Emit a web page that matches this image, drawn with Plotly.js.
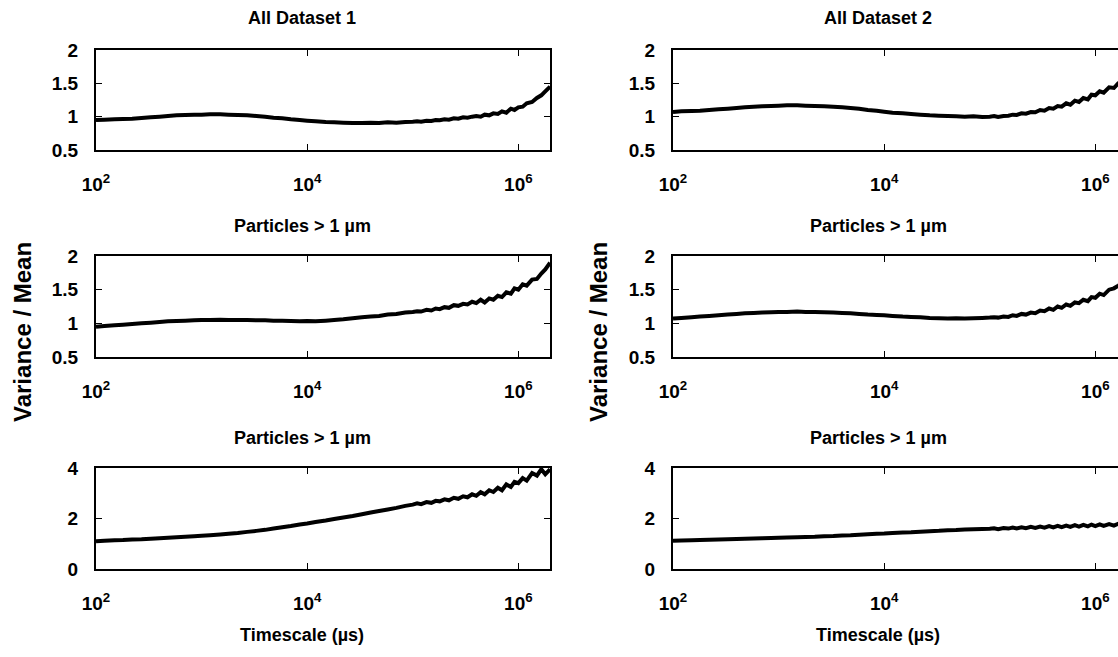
<!DOCTYPE html>
<html>
<head>
<meta charset="utf-8">
<script src="https://cdn.plot.ly/plotly-3.0.1.min.js"></script>
<style>
html,body{margin:0;padding:0;overflow:hidden;background:#fff;}
#chart{width:1140px;height:657px;}
</style>
</head>
<body>
<div id="chart"></div>
<script>
// Timescale (µs)
const timescale = [100,120,150,180,220,270,330,400,480,580,700,850,1000,1200,1500,1800,2200,2700,3300,4000,4800,5800,7000,8500,10000,12000,15000,18000,22000,27000,33000,40000,48000,58000,70000,85000,100000,110000,120000,135000,150000,165000,180000,200000,220000,245000,270000,300000,330000,365000,400000,440000,480000,530000,580000,640000,700000,770000,850000,920000,1000000,1100000,1200000,1350000,1500000,1650000,1800000,2000000];

// All Dataset 1
const allDataset1 = [0.95,0.955,0.96,0.965,0.97,0.98,0.99,1.0,1.01,1.02,1.025,1.03,1.03,1.035,1.035,1.03,1.025,1.02,1.01,1.0,0.985,0.975,0.96,0.95,0.94,0.93,0.92,0.915,0.91,0.905,0.905,0.91,0.905,0.915,0.91,0.92,0.925,0.93,0.925,0.94,0.935,0.95,0.945,0.96,0.955,0.975,0.97,0.99,0.985,1.0,1.01,1.0,1.03,1.02,1.05,1.04,1.08,1.06,1.12,1.1,1.14,1.15,1.2,1.22,1.28,1.32,1.38,1.45];
// All Dataset 2
const allDataset2 = [1.07,1.08,1.085,1.09,1.1,1.11,1.12,1.13,1.14,1.15,1.155,1.16,1.165,1.17,1.17,1.165,1.16,1.155,1.15,1.14,1.13,1.12,1.1,1.09,1.075,1.06,1.05,1.04,1.03,1.02,1.015,1.01,1.005,1.0,1.005,0.995,1.0,1.01,0.995,1.01,1.015,1.03,1.025,1.05,1.045,1.07,1.065,1.1,1.09,1.13,1.12,1.16,1.15,1.2,1.18,1.24,1.22,1.28,1.26,1.33,1.32,1.38,1.36,1.44,1.43,1.5,1.52,1.58];
// Particles > 1 µm, Dataset 1 (middle row)
const particles1a = [0.95,0.96,0.97,0.98,0.99,1.0,1.01,1.02,1.03,1.035,1.04,1.045,1.05,1.05,1.055,1.05,1.05,1.05,1.045,1.045,1.04,1.04,1.035,1.03,1.035,1.03,1.04,1.05,1.06,1.075,1.09,1.1,1.11,1.13,1.14,1.16,1.17,1.18,1.175,1.2,1.19,1.22,1.21,1.24,1.23,1.27,1.26,1.29,1.28,1.32,1.3,1.35,1.31,1.37,1.35,1.41,1.39,1.46,1.44,1.52,1.5,1.58,1.56,1.65,1.66,1.74,1.8,1.9];
// Particles > 1 µm, Dataset 2 (middle row)
const particles2a = [1.07,1.08,1.09,1.1,1.11,1.12,1.13,1.14,1.15,1.155,1.16,1.165,1.17,1.17,1.175,1.17,1.17,1.165,1.16,1.155,1.15,1.14,1.13,1.125,1.12,1.11,1.1,1.095,1.09,1.08,1.075,1.07,1.075,1.07,1.075,1.08,1.085,1.09,1.085,1.1,1.095,1.12,1.11,1.14,1.13,1.16,1.15,1.19,1.18,1.22,1.2,1.25,1.23,1.28,1.26,1.31,1.3,1.35,1.33,1.39,1.38,1.44,1.42,1.5,1.52,1.56,1.6,1.64];
// Particles > 1 µm, Dataset 1 (bottom row)
const particles1b = [1.1,1.12,1.14,1.15,1.17,1.18,1.2,1.22,1.24,1.26,1.28,1.3,1.32,1.34,1.37,1.4,1.43,1.47,1.51,1.55,1.6,1.65,1.7,1.76,1.8,1.86,1.92,1.98,2.04,2.1,2.17,2.24,2.3,2.36,2.42,2.5,2.55,2.6,2.57,2.65,2.62,2.7,2.68,2.76,2.72,2.82,2.78,2.88,2.84,2.96,2.9,3.04,2.96,3.12,3.05,3.22,3.12,3.35,3.25,3.45,3.4,3.6,3.5,3.8,3.7,3.95,3.75,3.95];
// Particles > 1 µm, Dataset 2 (bottom row)
const particles2b = [1.12,1.13,1.14,1.15,1.16,1.17,1.18,1.19,1.2,1.21,1.22,1.23,1.24,1.25,1.26,1.27,1.28,1.3,1.31,1.33,1.34,1.36,1.38,1.4,1.41,1.43,1.45,1.46,1.48,1.5,1.51,1.53,1.54,1.56,1.57,1.58,1.59,1.61,1.58,1.62,1.6,1.64,1.61,1.65,1.62,1.67,1.63,1.68,1.64,1.7,1.65,1.71,1.66,1.72,1.67,1.74,1.68,1.75,1.69,1.76,1.7,1.77,1.71,1.78,1.72,1.79,1.73,1.78];

const panelTitles = ["All Dataset 1","All Dataset 2","Particles > 1 µm","Particles > 1 µm","Particles > 1 µm","Particles > 1 µm"];
const xTickVals = [100,10000,1000000];
const xTickText = ["10<sup>2</sup>","10<sup>4</sup>","10<sup>6</sup>"];
const yTickValsTop = [0.5,1,1.5,2];
const yTickTextTop = ["0.5","1","1.5","2"];
const yTickValsBottom = [0,2,4];
const yTickTextBottom = ["0","2","4"];
const xAxisTitle = "Timescale (µs)";
const yAxisTitle = "Variance / Mean";

const W = 1140, H = 657;
const px = v => v / W;
const py = v => 1 - v / H;

const series = [allDataset1, allDataset2, particles1a, particles2a, particles1b, particles2b];
const colsX = [[96,550],[673,1127]];
const rowsY = [[50,150],[256,357],[468,569]];

const tickFont = {family:"Liberation Sans Narrow, Liberation Sans, Arial, sans-serif", size:19, color:"#000", weight:"bold"};
const titleFont = {family:"Liberation Sans Narrow, Liberation Sans, Arial, sans-serif", size:18, color:"#000", weight:"bold"};

const traces = [];
const layout = {
  width: W, height: H,
  margin: {l:0, r:0, t:0, b:0},
  paper_bgcolor: "#fff", plot_bgcolor: "#fff",
  showlegend: false,
  annotations: []
};

for (let i = 0; i < 6; i++) {
  const row = Math.floor(i / 2), col = i % 2;
  const n = i + 1;
  const xa = n === 1 ? "x" : "x" + n;
  const ya = n === 1 ? "y" : "y" + n;
  traces.push({
    x: timescale, y: series[i], xaxis: xa, yaxis: ya,
    type: "scatter", mode: "lines",
    line: {color: "#000", width: 4, simplify: false},
    hoverinfo: "skip"
  });
  const bottom = row === 2;
  layout["xaxis" + (n === 1 ? "" : n)] = {
    type: "log", range: [2, 6.3],
    domain: [px(colsX[col][0]), px(colsX[col][1])],
    anchor: ya,
    showline: true, linecolor: "#000", linewidth: 2, mirror: "ticks",
    ticks: "inside", ticklen: 6, tickwidth: 1, tickcolor: "#000",
    tickvals: xTickVals, ticktext: xTickText,
    tickfont: tickFont, ticklabelstandoff: 16,
    showgrid: false, zeroline: false, fixedrange: true
  };
  layout["yaxis" + (n === 1 ? "" : n)] = {
    range: bottom ? [0, 4] : [0.5, 2],
    domain: [py(rowsY[row][1]), py(rowsY[row][0])],
    anchor: xa,
    showline: true, linecolor: "#000", linewidth: 2, mirror: "ticks",
    ticks: "inside", ticklen: 6, tickwidth: 1, tickcolor: "#000",
    tickvals: bottom ? yTickValsBottom : yTickValsTop,
    ticktext: bottom ? yTickTextBottom : yTickTextTop,
    tickfont: tickFont, ticklabelstandoff: 12,
    showgrid: false, zeroline: false, fixedrange: true
  };
  const titleY = [18, 226, 438][row];
  const titleX = col === 0 ? 302 : 878;
  layout.annotations.push({
    text: panelTitles[i], xref: "paper", yref: "paper",
    x: px(titleX), y: py(titleY), xanchor: "center", yanchor: "middle",
    showarrow: false, font: titleFont
  });
}

[302, 878].forEach(cx => {
  layout.annotations.push({
    text: xAxisTitle, xref: "paper", yref: "paper",
    x: px(cx), y: py(635), xanchor: "center", yanchor: "middle",
    showarrow: false, font: titleFont
  });
});
[22, 598].forEach(cx => {
  layout.annotations.push({
    text: yAxisTitle, xref: "paper", yref: "paper",
    x: px(cx), y: py(332), xanchor: "center", yanchor: "middle",
    textangle: -90, showarrow: false,
    font: {family:"Liberation Sans, Arial, sans-serif", size:24, color:"#000", weight:"bold"}
  });
});

Plotly.newPlot("chart", traces, layout, {displayModeBar: false, staticPlot: true});
</script>
</body>
</html>
